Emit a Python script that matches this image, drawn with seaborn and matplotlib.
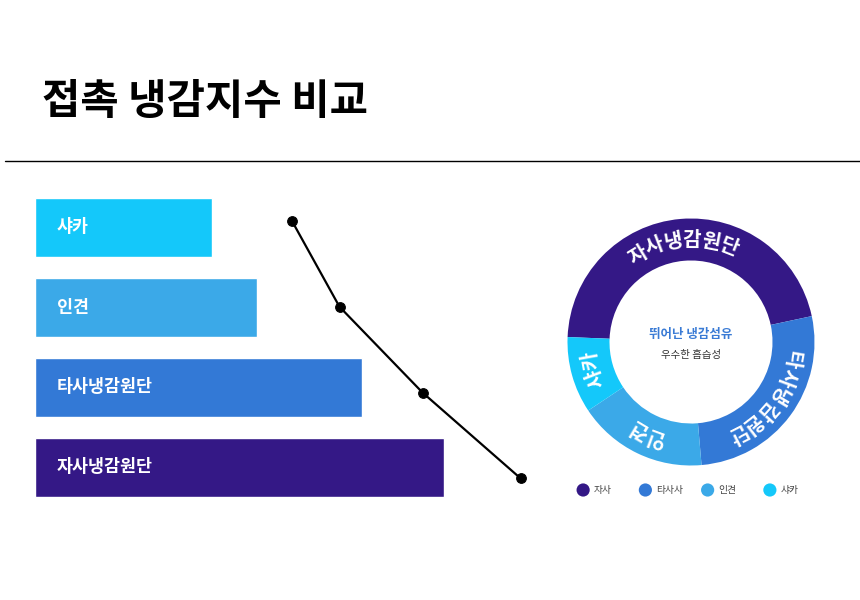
import numpy as np
import matplotlib
matplotlib.use('Agg')
import matplotlib.pyplot as plt
from matplotlib.lines import Line2D
import seaborn as sns

# ---------------- data ----------------
bar_labels = ['샤카', '인견', '타사냉감원단', '자사냉감원단']
bar_values = [35.4, 44.4, 65.4, 81.8]          # contact cooling index (bar)
line_values = [51.4, 60.9, 77.5, 97.1]         # trend line points
colors = ['#14C8FA', '#3BA9E8', '#3379D6', '#341886']

donut_labels = ['자사냉감원단', '타사냉감원단', '인견', '샤카']
donut_legend = ['자사', '타사사', '인견', '샤카']
donut_shares = [46, 27, 17, 10]
donut_colors = ['#341886', '#3379D6', '#3BA9E8', '#14C8FA']

title = '접촉 냉감지수 비교'
center_title = '뛰어난 냉감섬유'
center_sub = '우수한 흡습성'

sns.set_theme(style='white')
plt.rcParams['font.family'] = ['Noto Sans CJK KR', 'DejaVu Sans']

W, H = 860, 600
fig = plt.figure(figsize=(W / 100, H / 100), dpi=100)


def px_box(x0, y0, x1, y1):
    # pixel box (top-left origin) -> figure fraction rect
    return [x0 / W, 1 - y1 / H, (x1 - x0) / W, (y1 - y0) / H]


# title + rule
fig.text(42 / W, 1 - 102 / H, title, fontsize=30, fontweight='bold',
         color='black', va='center', ha='left')
fig.add_artist(Line2D([5 / W, 1.0], [1 - 161 / H, 1 - 161 / H],
                      color='black', lw=1, transform=fig.transFigure))

############# bars ##################
ax = fig.add_axes(px_box(35, 187.5, 535, 507.5))
sns.barplot(x=bar_values, y=bar_labels, hue=bar_labels, palette=colors,
            orient='h', width=0.7375, saturation=1, legend=False, ax=ax)
ax.set_xlim(0, 100)
ax.set_ylim(3.5, -0.5)
ax.axis('off')
for i, lab in enumerate(bar_labels):
    ax.annotate(lab, xy=(0, i), xytext=(15.8, 0), textcoords='offset points',
                va='center', ha='left', color='white', fontsize=12.5,
                fontweight='bold')

############# line ##################
ax2 = ax.twinx()
sns.lineplot(x=line_values, y=list(range(len(line_values))), sort=False,
             color='black', lw=1.6, marker='o', markersize=7,
             markeredgecolor='black', ax=ax2)
step = (478.3 - 221) / 3
ax2.set_ylim(3 + (507.5 - 478.3) / step, (187.5 - 221) / step)
ax2.set_xlim(0, 100)
ax2.axis('off')

############# donut ##################
cx, cy, R = 691, 342, 123.5
ax3 = fig.add_axes(px_box(cx - R, cy - R, cx + R, cy + R))
start = 177.7
ax3.pie(donut_shares, colors=donut_colors, startangle=start, counterclock=False,
        radius=1, wedgeprops=dict(width=0.34, edgecolor='none'))
ax3.set_xlim(-1, 1)
ax3.set_ylim(-1, 1)
ax3.set_aspect('equal')
ax3.axis('off')

# curved labels along the ring (clockwise, tops outward)
r_text = 0.83
char_step = 10.6
total = float(sum(donut_shares))
acc = 0.0
for lab, share in zip(donut_labels, donut_shares):
    mid = start - (acc + share / 2) / total * 360
    acc += share
    n = len(lab)
    for k, ch in enumerate(lab):
        th = mid + char_step * ((n - 1) / 2 - k)
        t = np.deg2rad(th)
        ax3.text(r_text * np.cos(t), r_text * np.sin(t), ch, rotation=th - 90,
                 rotation_mode='anchor', ha='center', va='center',
                 color='white', fontsize=14.5, fontweight='bold')

ax3.text(0, 0.057, center_title, ha='center', va='center', fontsize=9,
         fontweight='bold', color='#3A7BD5')
ax3.text(0, -0.105, center_sub, ha='center', va='center', fontsize=7.5,
         color='#333333')

############# legend ##################
ax4 = fig.add_axes(px_box(552, 480, 801, 500))
sns.scatterplot(x=list(range(len(donut_legend))), y=[0] * len(donut_legend),
                hue=donut_legend, palette=donut_colors, s=90, linewidth=0,
                legend=False, ax=ax4)
ax4.set_xlim(-0.5, 3.5)
ax4.set_ylim(-1, 1)
ax4.axis('off')
for i, lab in enumerate(donut_legend):
    ax4.annotate(lab, xy=(i, 0), xytext=(7.5, 0), textcoords='offset points',
                 va='center', ha='left', fontsize=7, color='#444444')

plt.savefig('out.png', dpi=100)
